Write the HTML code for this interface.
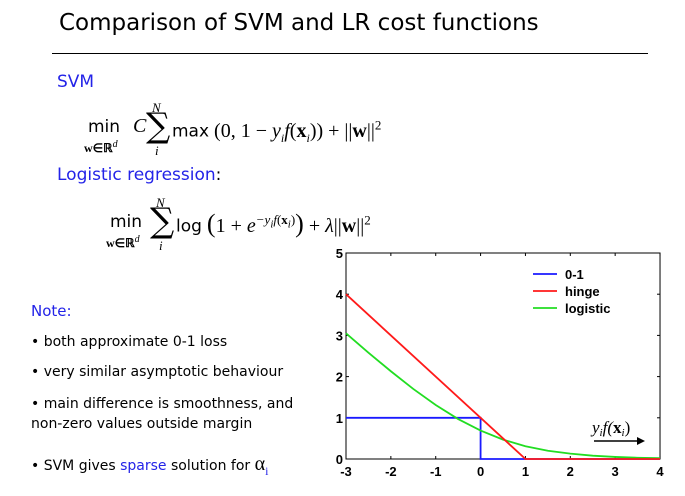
<!DOCTYPE html>
<html><head><meta charset="utf-8"><style>
body{margin:0;width:685px;height:496px;background:#fff;position:relative;overflow:hidden;font-family:"DejaVu Sans","Liberation Sans",sans-serif}
.a{position:absolute;white-space:nowrap}
.m{font-family:"Liberation Serif",serif;font-style:italic}
.b{color:#2323e8}
.s{font-family:'Liberation Serif',serif;font-size:20px}
</style></head><body>
<div class="a" style="left:59px;top:10px;font-size:23px;color:#000">Comparison of SVM and LR cost functions</div>
<div class="a" style="left:52px;top:53px;width:596px;height:1px;background:#000"></div>
<div class="a b" style="left:57px;top:72px;font-size:17px">SVM</div>
<div class="a" style="left:84px;top:102px;font-size:17px;width:340px;height:60px">
 <span class="a" style="left:4px;top:15px">min</span>
 <span class="a" style="left:0;top:37px;font-size:12px;font-weight:bold;font-family:'Liberation Serif',serif">w∈ℝ<sup style="font-style:italic;font-weight:normal">d</sup></span>
 <span class="a m" style="left:49px;top:13px;font-size:20px">C</span>
 <span class="a m" style="left:68px;top:-2px;font-size:13px">N</span>
 <span class="a" style="left:62px;top:4px;font-size:34px;font-family:'DejaVu Serif',serif">∑</span>
 <span class="a m" style="left:71px;top:41px;font-size:13px">i</span>
 <span class="a" style="left:88px;top:15px">max<span class="s"> (0, 1 − <i>y<sub style="font-size:12px">i</sub>f</i>(<b>x</b><sub style="font-size:12px"><i>i</i></sub>)) + ||<b>w</b>||<sup style="font-size:13px">2</sup></span></span>
</div>
<div class="a b" style="left:57px;top:165px;font-size:17px">Logistic regression<span style="color:#000">:</span></div>
<div class="a" style="left:106px;top:197px;font-size:17px;width:330px;height:60px">
 <span class="a" style="left:4px;top:15px">min</span>
 <span class="a" style="left:0;top:37px;font-size:12px;font-weight:bold;font-family:'Liberation Serif',serif">w∈ℝ<sup style="font-style:italic;font-weight:normal">d</sup></span>
 <span class="a m" style="left:50px;top:-2px;font-size:13px">N</span>
 <span class="a" style="left:44px;top:4px;font-size:34px;font-family:'DejaVu Serif',serif">∑</span>
 <span class="a m" style="left:53px;top:41px;font-size:13px">i</span>
 <span class="a" style="left:70px;top:15px">log<span class="s"> <span style="font-size:26px;line-height:10px">(</span>1 + <i>e</i><sup style="font-size:13px"><i>−y<sub>i</sub>f</i>(<b>x</b><sub><i>i</i></sub>)</sup><span style="font-size:26px;line-height:10px">)</span> + <i>λ</i>||<b>w</b>||<sup style="font-size:13px">2</sup></span></span>
</div>
<div class="a b" style="left:31px;top:302px;font-size:15px">Note:</div>
<div class="a" style="left:31px;top:334px;font-size:14px">• both approximate 0-1 loss</div>
<div class="a" style="left:31px;top:364px;font-size:14px">• very similar asymptotic behaviour</div>
<div class="a" style="left:31px;top:394px;font-size:14px;line-height:20px">• main difference is smoothness, and<br>non-zero values outside margin</div>
<div class="a" style="left:31px;top:453px;font-size:14px">• SVM gives <span class="b">sparse</span> solution for <span style="font-family:'Liberation Serif',serif;font-size:20px">α<sub style="font-size:12px;color:#2323e8">i</sub></span></div>
<svg class="a" style="left:0;top:0" width="685" height="496"><g id="g"></g></svg>
<script>
const xs=[-3,-2.5,-2,-1.5,-1,-0.5,0,0.5,1,1.5,2,2.5,3,3.5,4];
const logistic=[3.05,2.58,2.13,1.70,1.31,0.97,0.69,0.47,0.31,0.20,0.13,0.08,0.05,0.03,0.02];
const hingeX=[-3,1,4];const hingeY=[4,0,0];
const zeroOneX=[-3,0,0,4];const zeroOneY=[1,1,0,0];
const xTicks=[-3,-2,-1,0,1,2,3,4];const yTicks=[0,1,2,3,4,5];
const X=v=>346+(v+3)*44.86, Y=v=>459-v*41.2;
const g=document.getElementById('g');const NS='http://www.w3.org/2000/svg';
function mk(t,a){const e=document.createElementNS(NS,t);for(const k in a)e.setAttribute(k,a[k]);g.appendChild(e);return e;}
let e=mk('rect',{x:X(-3),y:Y(5),width:X(4)-X(-3),height:Y(0)-Y(5),fill:'none',stroke:'#000','stroke-width':1});


xTicks.forEach(v=>{mk('line',{x1:X(v),x2:X(v),y1:Y(0),y2:Y(0)-3,stroke:'#000'});mk('line',{x1:X(v),x2:X(v),y1:Y(5),y2:Y(5)+3,stroke:'#000'});
 const t=mk('text',{x:X(v),y:476,'text-anchor':'middle','font-size':13,'font-weight':'bold','font-family':'Liberation Sans'});t.textContent=v;
 
 });
yTicks.forEach(v=>{mk('line',{x1:X(-3),x2:X(-3)+3,y1:Y(v),y2:Y(v),stroke:'#000'});mk('line',{x1:X(4),x2:X(4)-3,y1:Y(v),y2:Y(v),stroke:'#000'});
 const t=mk('text',{x:X(-3)-3,y:Y(v)+5,'text-anchor':'end','font-size':13,'font-weight':'bold','font-family':'Liberation Sans'});t.textContent=v;
 
 });
function line(xa,ya,c,n){const p=mk('polyline',{points:xa.map((x,i)=>X(x)+','+Y(ya[i])).join(' '),fill:'none',stroke:c,'stroke-width':1.8});
 
 }
line(zeroOneX,zeroOneY,'#1a1aff','zero-one-line');
line(xs,logistic,'#22dd22','logistic-line');
line(hingeX,hingeY,'#ff1a1a','hinge-line');
[['0-1','#1a1aff'],['hinge','#ff1a1a'],['logistic','#22dd22']].forEach((d,i)=>{const y=274+i*17;
 const l=mk('line',{x1:533,x2:557,y1:y,y2:y,stroke:d[1],'stroke-width':1.8});
 
 
 const t=mk('text',{x:565,y:y+5,'font-size':13,'font-weight':'bold','font-family':'Liberation Sans'});t.textContent=d[0];
 
 });
const lab=mk('text',{x:592,y:433,'font-size':17,'font-family':'Liberation Serif','font-style':'italic'});
lab.innerHTML='y<tspan font-size="11" dy="3">i</tspan><tspan dy="-3">f(</tspan><tspan font-weight="bold" font-style="normal">x</tspan><tspan font-size="11" dy="3">i</tspan><tspan dy="-3" font-style="normal">)</tspan>';


mk('line',{x1:594,x2:643,y1:441,y2:441,stroke:'#000','stroke-width':1.5});
mk('polygon',{points:'645,441 637,437 637,445',fill:'#000'});
</script>
</body></html>
